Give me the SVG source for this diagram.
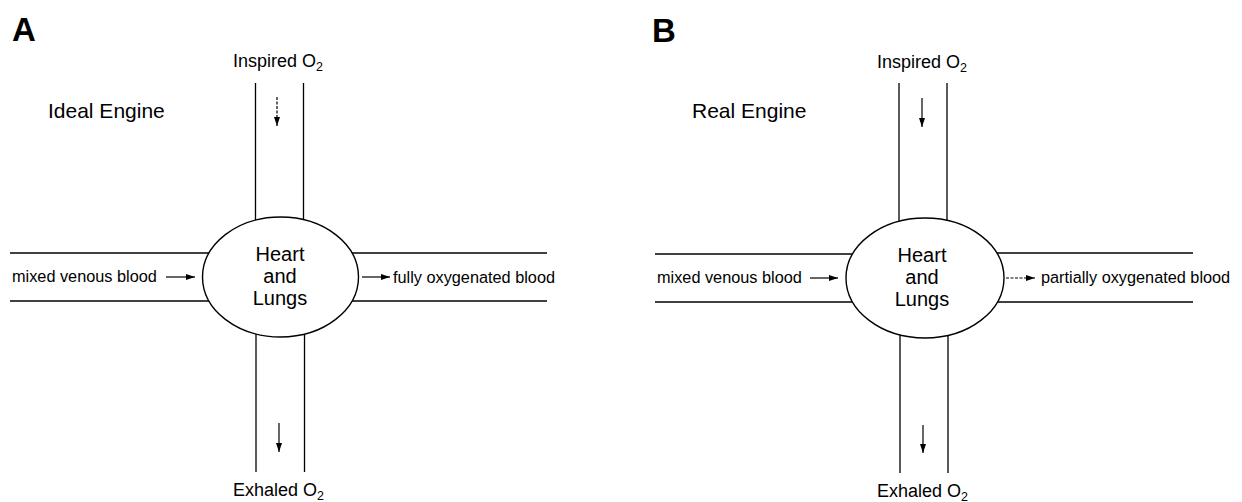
<svg xmlns="http://www.w3.org/2000/svg" width="1242" height="502" viewBox="0 0 1242 502">
<defs>
<style>
.pipe{stroke:#000;stroke-width:1.3;fill:none}
.arr{stroke:#000;stroke-width:1.2;fill:none;marker-end:url(#ah)}
.dash{stroke-dasharray:3 1.5}
.node{fill:#fff;stroke:#000;stroke-width:1.4}
text{font-family:"Liberation Sans",Arial,Helvetica,sans-serif;fill:#000}
.panel{font-size:33px;font-weight:bold}
.title{font-size:21px}
.big{font-size:20px;text-anchor:middle}
.flow{font-size:16.3px}
.gas{font-size:18px}
.sub{font-size:12.5px}
</style>
<marker id="ah" markerWidth="9" markerHeight="6" refX="9" refY="3" orient="auto" markerUnits="userSpaceOnUse">
<path d="M0,0 L9,3 L0,6 z" fill="#000"/>
</marker>
</defs>
<rect width="1242" height="502" fill="#fff"/>

<g id="connectors">
<line class="pipe" x1="255.5" y1="83" x2="255.5" y2="277"/>
<line class="pipe" x1="303.5" y1="83" x2="303.5" y2="277"/>
<line class="pipe" x1="256" y1="277" x2="256" y2="472"/>
<line class="pipe" x1="304.5" y1="277" x2="304.5" y2="472"/>
<line class="pipe" x1="10" y1="253" x2="280" y2="253"/>
<line class="pipe" x1="10" y1="301" x2="280" y2="301"/>
<line class="pipe" x1="280" y1="253" x2="547" y2="253"/>
<line class="pipe" x1="280" y1="301" x2="547" y2="301"/>
<line class="arr dash" x1="277" y1="97" x2="277" y2="126"/>
<line class="arr" x1="279" y1="423" x2="279" y2="452"/>
<line class="arr" x1="166" y1="277" x2="195" y2="277"/>
<line class="arr" x1="362" y1="277" x2="390" y2="277"/>
<line class="pipe" x1="899" y1="83" x2="899" y2="278"/>
<line class="pipe" x1="947" y1="83" x2="947" y2="278"/>
<line class="pipe" x1="900" y1="278" x2="900" y2="473"/>
<line class="pipe" x1="948" y1="278" x2="948" y2="473"/>
<line class="pipe" x1="655" y1="254" x2="925" y2="254"/>
<line class="pipe" x1="655" y1="302" x2="925" y2="302"/>
<line class="pipe" x1="925" y1="253" x2="1193" y2="253"/>
<line class="pipe" x1="925" y1="302" x2="1193" y2="302"/>
<line class="arr" x1="922" y1="98" x2="922" y2="127"/>
<line class="arr" x1="923" y1="425" x2="923" y2="453"/>
<line class="arr" x1="810" y1="278" x2="838" y2="278"/>
<line class="arr dash" x1="1006" y1="278" x2="1035" y2="278"/>
</g>

<g id="panelA">
<text class="panel" x="12" y="41">A</text>
<text class="title" x="48" y="118">Ideal Engine</text>
<text class="gas" x="233" y="67">Inspired O<tspan class="sub" dy="4">2</tspan></text>
<text class="gas" x="233" y="496">Exhaled O<tspan class="sub" dy="4">2</tspan></text>
<text class="flow" x="12" y="282">mixed venous blood</text>
<text class="flow" x="393" y="283">fully oxygenated blood</text>
</g>
<g id="nodeA">
<ellipse class="node" cx="280.5" cy="277" rx="78" ry="60"/>
<text class="big" x="280" y="261">Heart</text>
<text class="big" x="280" y="283">and</text>
<text class="big" x="280" y="305">Lungs</text>
</g>

<g id="panelB">
<text class="panel" x="652" y="42">B</text>
<text class="title" x="692" y="118">Real Engine</text>
<text class="gas" x="877" y="68">Inspired O<tspan class="sub" dy="4">2</tspan></text>
<text class="gas" x="877" y="497">Exhaled O<tspan class="sub" dy="4">2</tspan></text>
<text class="flow" x="657" y="283">mixed venous blood</text>
<text class="flow" x="1041" y="283">partially oxygenated blood</text>
</g>
<g id="nodeB">
<ellipse class="node" cx="925" cy="278" rx="79" ry="60"/>
<text class="big" x="922" y="262">Heart</text>
<text class="big" x="922" y="284">and</text>
<text class="big" x="922" y="306">Lungs</text>
</g>
</svg>
